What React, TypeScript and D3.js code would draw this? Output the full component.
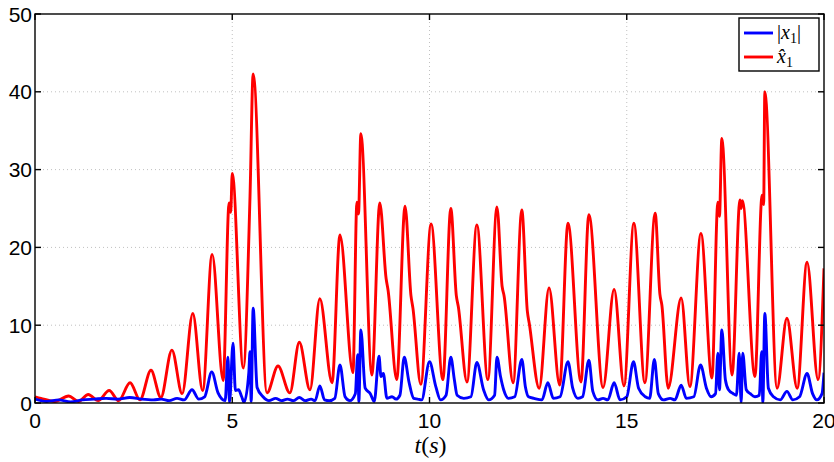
import React, { useEffect, useRef } from 'react'
import * as d3 from 'd3'

// |x1| : magnitude of the state (blue)
const absX1: [number, number][] = [
  [0, 0.5], [0.3, 0.2], [0.6, 0.4], [0.9, 0.15], [1.2, 0.4], [1.5, 0.5], [1.8, 0.6],
  [2.1, 0.5], [2.4, 0.7], [2.7, 0.5], [3.0, 0.4], [3.2, 0.5], [3.4, 0.3], [3.6, 0.6],
  [3.78, 0.4], [3.98, 1.7], [4.15, 0.5], [4.3, 0.8], [4.48, 4.0], [4.64, 1.3], [4.82, 0.3],
  [4.89, 5.9], [4.93, 0.1], [5.02, 7.7], [5.08, 1.6], [5.16, 1.7], [5.24, 0.8], [5.3, 0.1],
  [5.42, 3.9], [5.45, 6.6], [5.48, 0.2], [5.53, 12.2], [5.63, 2.0], [5.78, 0.8], [5.93, 0.3],
  [6.1, 0.6], [6.25, 0.3], [6.4, 0.5], [6.55, 0.3], [6.7, 0.7], [6.85, 0.3], [7.0, 0.5],
  [7.1, 0.3], [7.22, 2.2], [7.34, 0.4], [7.46, 0.3], [7.6, 0.6], [7.73, 4.9], [7.86, 0.8],
  [7.98, 0.3], [8.12, 1.2], [8.18, 6.2], [8.21, 0.2], [8.26, 9.4], [8.37, 1.9], [8.5, 1.2],
  [8.6, 0.2], [8.72, 6.0], [8.77, 3.4], [8.83, 3.8], [8.92, 0.6], [9.05, 0.8], [9.15, 0.5],
  [9.25, 1.0], [9.36, 5.9], [9.48, 2.7], [9.6, 0.6], [9.7, 0.5], [9.8, 0.4], [10.0, 5.3],
  [10.16, 2.1], [10.28, 0.4], [10.42, 1.0], [10.54, 5.9], [10.63, 3.0], [10.7, 1.0],
  [10.87, 0.6], [11.05, 0.8], [11.2, 5.2], [11.37, 1.7], [11.5, 0.4], [11.65, 1.0],
  [11.71, 5.9], [11.8, 3.4], [11.88, 1.7], [12.0, 0.6], [12.16, 0.8], [12.34, 5.6],
  [12.43, 2.1], [12.51, 0.8], [12.65, 0.6], [12.85, 0.4], [13.0, 2.6], [13.14, 0.6],
  [13.31, 0.8], [13.51, 5.3], [13.63, 1.9], [13.76, 0.6], [13.88, 0.8], [14.04, 5.5],
  [14.14, 1.5], [14.27, 0.4], [14.4, 0.6], [14.52, 0.4], [14.68, 2.6], [14.83, 0.4],
  [15.0, 0.8], [15.17, 5.3], [15.3, 1.9], [15.47, 0.8], [15.58, 0.6], [15.7, 5.6], [15.8, 1.2],
  [15.93, 0.4], [16.1, 0.6], [16.22, 0.4], [16.38, 2.3], [16.51, 0.6], [16.7, 0.8],
  [16.87, 4.9], [17.02, 1.9], [17.14, 0.8], [17.25, 1.2], [17.31, 6.4], [17.35, 1.7],
  [17.41, 9.4], [17.5, 3.0], [17.58, 1.7], [17.7, 1.2], [17.78, 1.0], [17.85, 6.4],
  [17.9, 0.1], [17.94, 6.4], [18.03, 1.7], [18.13, 1.2], [18.25, 0.8], [18.36, 1.0],
  [18.42, 6.6], [18.45, 0.1], [18.5, 11.5], [18.59, 1.9], [18.72, 0.8], [18.89, 0.4],
  [19.06, 1.5], [19.21, 0.4], [19.38, 0.8], [19.57, 3.8], [19.71, 1.2], [19.82, 0.4],
  [19.95, 1.2], [20, 3.9],
]

// x1 hat : estimate (red)
const x1Hat: [number, number][] = [
  [0, 0.8], [0.15, 0.6], [0.5, 0.2], [0.85, 0.9], [1.1, 0.2], [1.35, 1.1], [1.6, 0.3],
  [1.88, 1.6], [2.12, 0.3], [2.41, 2.6], [2.66, 0.4], [2.94, 4.2], [3.19, 0.7], [3.47, 6.8],
  [3.73, 1.2], [4.0, 11.5], [4.25, 1.6], [4.49, 19.1], [4.77, 2.9], [4.92, 25.7], [4.96, 24.5],
  [5.0, 29.5], [5.28, 4.5], [5.45, 26.5], [5.53, 42.3], [5.88, 1.3], [6.16, 4.75], [6.46, 1.3],
  [6.7, 7.8], [6.97, 1.7], [7.22, 13.4], [7.53, 2.6], [7.73, 21.6], [8.06, 3.9], [8.16, 25.8],
  [8.2, 24.3], [8.26, 34.6], [8.54, 3.6], [8.74, 25.7], [8.9, 16], [8.95, 14.5], [9.17, 3],
  [9.38, 25.3], [9.53, 13.8], [9.58, 12.2], [9.78, 2.4], [10.04, 23], [10.34, 3], [10.54, 25],
  [10.68, 13.8], [10.73, 12.4], [10.95, 2.7], [11.2, 22.9], [11.48, 3], [11.71, 25.2],
  [11.84, 15], [11.89, 13.8], [12.12, 2.6], [12.34, 24.8], [12.48, 11.8], [12.53, 10.2],
  [12.78, 1.9], [13.03, 14.8], [13.3, 2.3], [13.51, 23.1], [13.84, 2.7], [14.04, 24.2],
  [14.4, 2], [14.68, 14.6], [14.93, 2.2], [15.18, 23.1], [15.46, 2.6], [15.72, 24.4],
  [15.84, 14], [15.89, 12.6], [16.05, 1.9], [16.38, 13.5], [16.6, 2.1], [16.88, 21.8],
  [17.16, 3.2], [17.31, 25.8], [17.35, 24], [17.41, 34], [17.67, 3.6], [17.87, 26.1],
  [17.9, 25], [17.93, 26], [18.25, 3.4], [18.43, 26.7], [18.47, 25.5], [18.5, 40],
  [18.81, 1.9], [19.06, 10.9], [19.32, 1.9], [19.57, 18.1], [19.85, 3], [20, 17.3],
]

const xTicks = [0, 5, 10, 15, 20]
const yTicks = [0, 10, 20, 30, 40, 50]

const W = 834
const H = 462
const left = 35
const right = 824
const top = 14
const bottom = 403

export default function App() {
  const ref = useRef<SVGSVGElement>(null)

  useEffect(() => {
    const svg = d3.select(ref.current)
    svg.selectAll('*').remove()

    const x = d3.scaleLinear().domain([0, 20]).range([left, right])
    const y = d3.scaleLinear().domain([0, 50]).range([bottom, top])

    svg
      .append('defs')
      .append('clipPath')
      .attr('id', 'plot')
      .append('rect')
      .attr('x', left)
      .attr('y', top)
      .attr('width', right - left)
      .attr('height', bottom - top)

    // dotted grid
    const grid = svg.append('g').attr('stroke', '#c0c0c0').attr('stroke-dasharray', '1,3')
    grid
      .selectAll('line.gx')
      .data(xTicks.slice(1, -1))
      .join('line')
      .attr('x1', (d) => x(d))
      .attr('x2', (d) => x(d))
      .attr('y1', top)
      .attr('y2', bottom)
    grid
      .selectAll('line.gy')
      .data(yTicks.slice(1, -1))
      .join('line')
      .attr('class', 'gy')
      .attr('x1', left)
      .attr('x2', right)
      .attr('y1', (d) => y(d))
      .attr('y2', (d) => y(d))

    const line = d3
      .line<[number, number]>()
      .x((d) => x(d[0]))
      .y((d) => y(d[1]))
      .curve(d3.curveMonotoneX)

    const lines = svg.append('g').attr('clip-path', 'url(#plot)').attr('fill', 'none')
    lines
      .append('path')
      .attr('d', line(x1Hat))
      .attr('stroke', '#ff0000')
      .attr('stroke-width', 2.9)
      .attr('stroke-linejoin', 'round')
    lines
      .append('path')
      .attr('d', line(absX1))
      .attr('stroke', '#0000ff')
      .attr('stroke-width', 2.9)
      .attr('stroke-linejoin', 'round')

    // frame with inward ticks on all sides
    const frame = svg.append('g').attr('stroke', '#000').attr('stroke-width', 1.4)
    frame
      .append('rect')
      .attr('x', left)
      .attr('y', top)
      .attr('width', right - left)
      .attr('height', bottom - top)
      .attr('fill', 'none')
    xTicks.forEach((t) => {
      frame.append('line').attr('x1', x(t)).attr('x2', x(t)).attr('y1', bottom).attr('y2', bottom - 6)
      frame.append('line').attr('x1', x(t)).attr('x2', x(t)).attr('y1', top).attr('y2', top + 6)
    })
    yTicks.forEach((v) => {
      frame.append('line').attr('x1', left).attr('x2', left + 6).attr('y1', y(v)).attr('y2', y(v))
      frame.append('line').attr('x1', right).attr('x2', right - 6).attr('y1', y(v)).attr('y2', y(v))
    })

    const labels = svg
      .append('g')
      .attr('font-family', 'Liberation Sans, Arial, sans-serif')
      .attr('font-size', 21)
      .attr('fill', '#000')
    labels
      .selectAll('text.xt')
      .data(xTicks)
      .join('text')
      .attr('x', (d) => x(d))
      .attr('y', bottom + 25)
      .attr('text-anchor', 'middle')
      .text((d) => d)
    labels
      .selectAll('text.yt')
      .data(yTicks)
      .join('text')
      .attr('class', 'yt')
      .attr('x', left - 3)
      .attr('y', (d) => y(d) + 7.5)
      .attr('text-anchor', 'end')
      .text((d) => d)

    // axis title t(s)
    const title = svg
      .append('text')
      .attr('x', (left + right) / 2 + 1)
      .attr('y', H - 9)
      .attr('text-anchor', 'middle')
      .attr('font-family', 'Liberation Serif, serif')
      .attr('font-size', 24)
    title.append('tspan').attr('font-style', 'italic').text('t')
    title.append('tspan').text('(')
    title.append('tspan').attr('font-style', 'italic').text('s')
    title.append('tspan').text(')')

    // legend
    const lg = svg.append('g')
    lg.append('rect')
      .attr('x', 739)
      .attr('y', 18)
      .attr('width', 80)
      .attr('height', 53)
      .attr('fill', '#fff')
      .attr('stroke', '#000')
      .attr('stroke-width', 1.4)
    const entries = [
      { color: '#0000ff', cy: 33, pre: '|', post: '|', hat: false },
      { color: '#ff0000', cy: 57, pre: '', post: '', hat: true },
    ]
    entries.forEach((e) => {
      lg.append('line')
        .attr('x1', 744)
        .attr('x2', 773)
        .attr('y1', e.cy)
        .attr('y2', e.cy)
        .attr('stroke', e.color)
        .attr('stroke-width', 2.9)
      const t = lg
        .append('text')
        .attr('x', 777)
        .attr('y', e.cy + 6)
        .attr('font-family', 'Liberation Serif, serif')
        .attr('font-size', 20)
      if (e.pre) t.append('tspan').text(e.pre)
      t.append('tspan')
        .attr('font-style', 'italic')
        .text(e.hat ? 'x\u0302' : 'x')
      t.append('tspan').attr('font-size', 14).attr('dy', 4).text('1')
      if (e.post) t.append('tspan').attr('dy', -4).text(e.post)
    })
  }, [])

  return (
    <svg
      ref={ref}
      width={W}
      height={H}
      style={{ position: 'absolute', left: 0, top: 0, background: '#fff' }}
    />
  )
}
